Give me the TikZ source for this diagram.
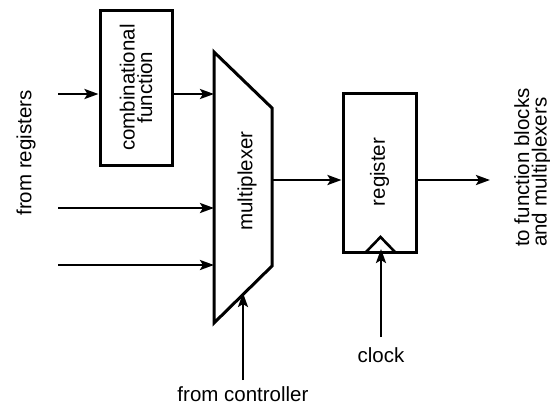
\documentclass[tikz,border=0pt]{standalone}
\usepackage{fontspec}
\setmainfont{Liberation Sans}
\usetikzlibrary{arrows.meta}
\begin{document}
\begin{tikzpicture}[x=1pt,y=-1pt,
  wire/.style={line width=2.6pt, -{Stealth[length=14pt,width=10pt,inset=3pt]}},
  blk/.style={draw, line width=3pt, inner sep=0pt},
  shp/.style={line width=3pt, line join=miter},
  lbl/.style={font=\fontsize{20.5}{17.5}\selectfont, inner sep=0pt, align=center}]
\useasboundingbox (0,0) rectangle (550,407);
% blocks
\node[blk, minimum width=72pt, minimum height=155pt] (comb) at (136,87.5) {};
\node[lbl, rotate=90] (combt) at (136,87.5) {combinational\\function};
\node[blk, minimum width=73pt, minimum height=159pt] (reg) at (379.5,172.5) {};
\node[lbl, rotate=90] (regt) at (379.5,172) {register};
\draw[shp] (214,52) -- (272,108) -- (272,266) -- (214,323) -- cycle;
\node[lbl, rotate=90] (muxt) at (247,181) {multiplexer};
\draw[line width=2.6pt] (366,252) -- (380.5,237) -- (395,252);
% ports
\coordinate (in1) at (58,94);
\coordinate (in2) at (58,208);
\coordinate (in3) at (58,265);
\coordinate (mux1) at (214,94);
\coordinate (mux2) at (214,208);
\coordinate (mux3) at (214,265);
\coordinate (muxo) at (272,180);
\coordinate (out) at (490,180);
\coordinate (ctl) at (243,380);
\coordinate (ctlt) at (243,293);
\coordinate (clk) at (381,337);
\coordinate (clkt) at (381,249);
% connectors
\draw[wire] (in1) -- (in1 -| comb.west);
\draw[wire] (in1 -| comb.east) -- (mux1);
\draw[wire] (in2) -- (mux2);
\draw[wire] (in3) -- (mux3);
\draw[wire] (muxo) -- (muxo -| reg.west);
\draw[wire] (muxo -| reg.east) -- (out);
\draw[wire] (ctl) -- (ctlt);
\draw[wire] (clk) -- (clkt);
% labels
\node[lbl, rotate=90] (fromreg) at (26,153) {from registers};
\node[lbl, rotate=90, align=left, anchor=south west] (tofn) at (551,247) {to function blocks\\and multiplexers};
\node[lbl] (fromctl) at (243,394) {from controller};
\node[lbl] (clkl) at (381,355) {clock};
\end{tikzpicture}
\end{document}
